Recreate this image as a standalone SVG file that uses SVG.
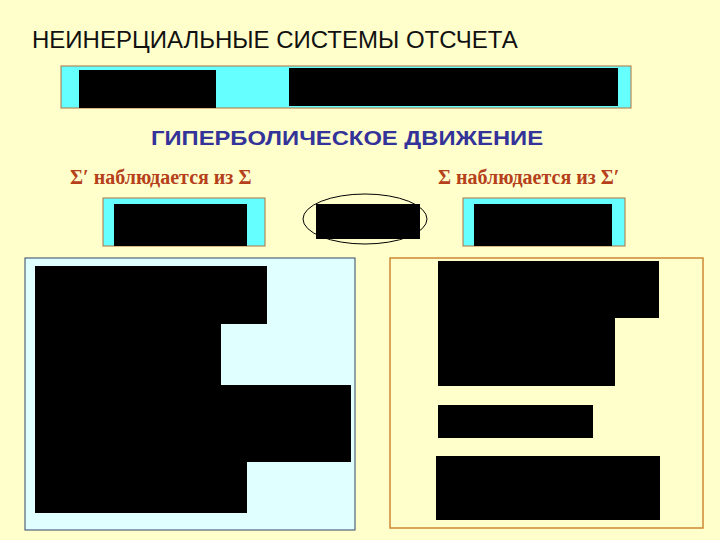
<svg xmlns="http://www.w3.org/2000/svg" width="720" height="540" viewBox="0 0 720 540">
<style>
.blk{fill:#000}
.cy{fill:#66FFFF;stroke:#B07040;stroke-width:1}
.sub{font-family:"Liberation Serif",serif;font-weight:bold;font-size:20px;fill:#B5401A}
</style>
<rect width="720" height="540" fill="#FFFFCC"/>
<text x="32" y="48" font-family="Liberation Sans,sans-serif" font-size="24" fill="#111">НЕИНЕРЦИАЛЬНЫЕ СИСТЕМЫ ОТСЧЕТА</text>
<g id="topbar">
<rect class="cy" x="61" y="66" width="570" height="42"/>
<rect class="blk" x="79" y="70" width="137" height="38"/>
<rect class="blk" x="289" y="68" width="329" height="38"/>
</g>
<text x="347" y="145" text-anchor="middle" font-family="Liberation Sans,sans-serif" font-weight="bold" font-size="20" fill="#333399" textLength="392" lengthAdjust="spacingAndGlyphs">ГИПЕРБОЛИЧЕСКОЕ ДВИЖЕНИЕ</text>
<text class="sub" x="70" y="184">Σ′ наблюдается из Σ</text>
<text class="sub" x="438" y="184">Σ наблюдается из Σ′</text>
<g id="boxL"><rect class="cy" x="103" y="198" width="162" height="48"/><rect class="blk" x="114" y="204" width="133" height="42"/></g>
<g id="ell"><ellipse cx="365" cy="219" rx="62" ry="25" fill="none" stroke="#000"/><rect class="blk" x="316" y="204" width="104" height="35"/></g>
<g id="boxR"><rect class="cy" x="463" y="198" width="162" height="48"/><rect class="blk" x="474" y="204" width="138" height="42"/></g>
<g id="panelL">
<rect x="25" y="258" width="330" height="272" fill="#E0FFFF" stroke="#334466"/>
<rect class="blk" x="35" y="266" width="232" height="58"/>
<rect class="blk" x="35" y="323" width="186" height="63"/>
<rect class="blk" x="35" y="385" width="316" height="77"/>
<rect class="blk" x="35" y="461" width="212" height="52"/>
</g>
<g id="panelR">
<rect x="390" y="258" width="313" height="270" fill="#FFFFCC" stroke="#CC8833" stroke-width="1.5"/>
<rect class="blk" x="438" y="261" width="221" height="57"/>
<rect class="blk" x="438" y="317" width="177" height="69"/>
<rect class="blk" x="438" y="405" width="155" height="33"/>
<rect class="blk" x="436" y="456" width="224" height="64"/>
</g>
<g id="connectors"/>
</svg>
